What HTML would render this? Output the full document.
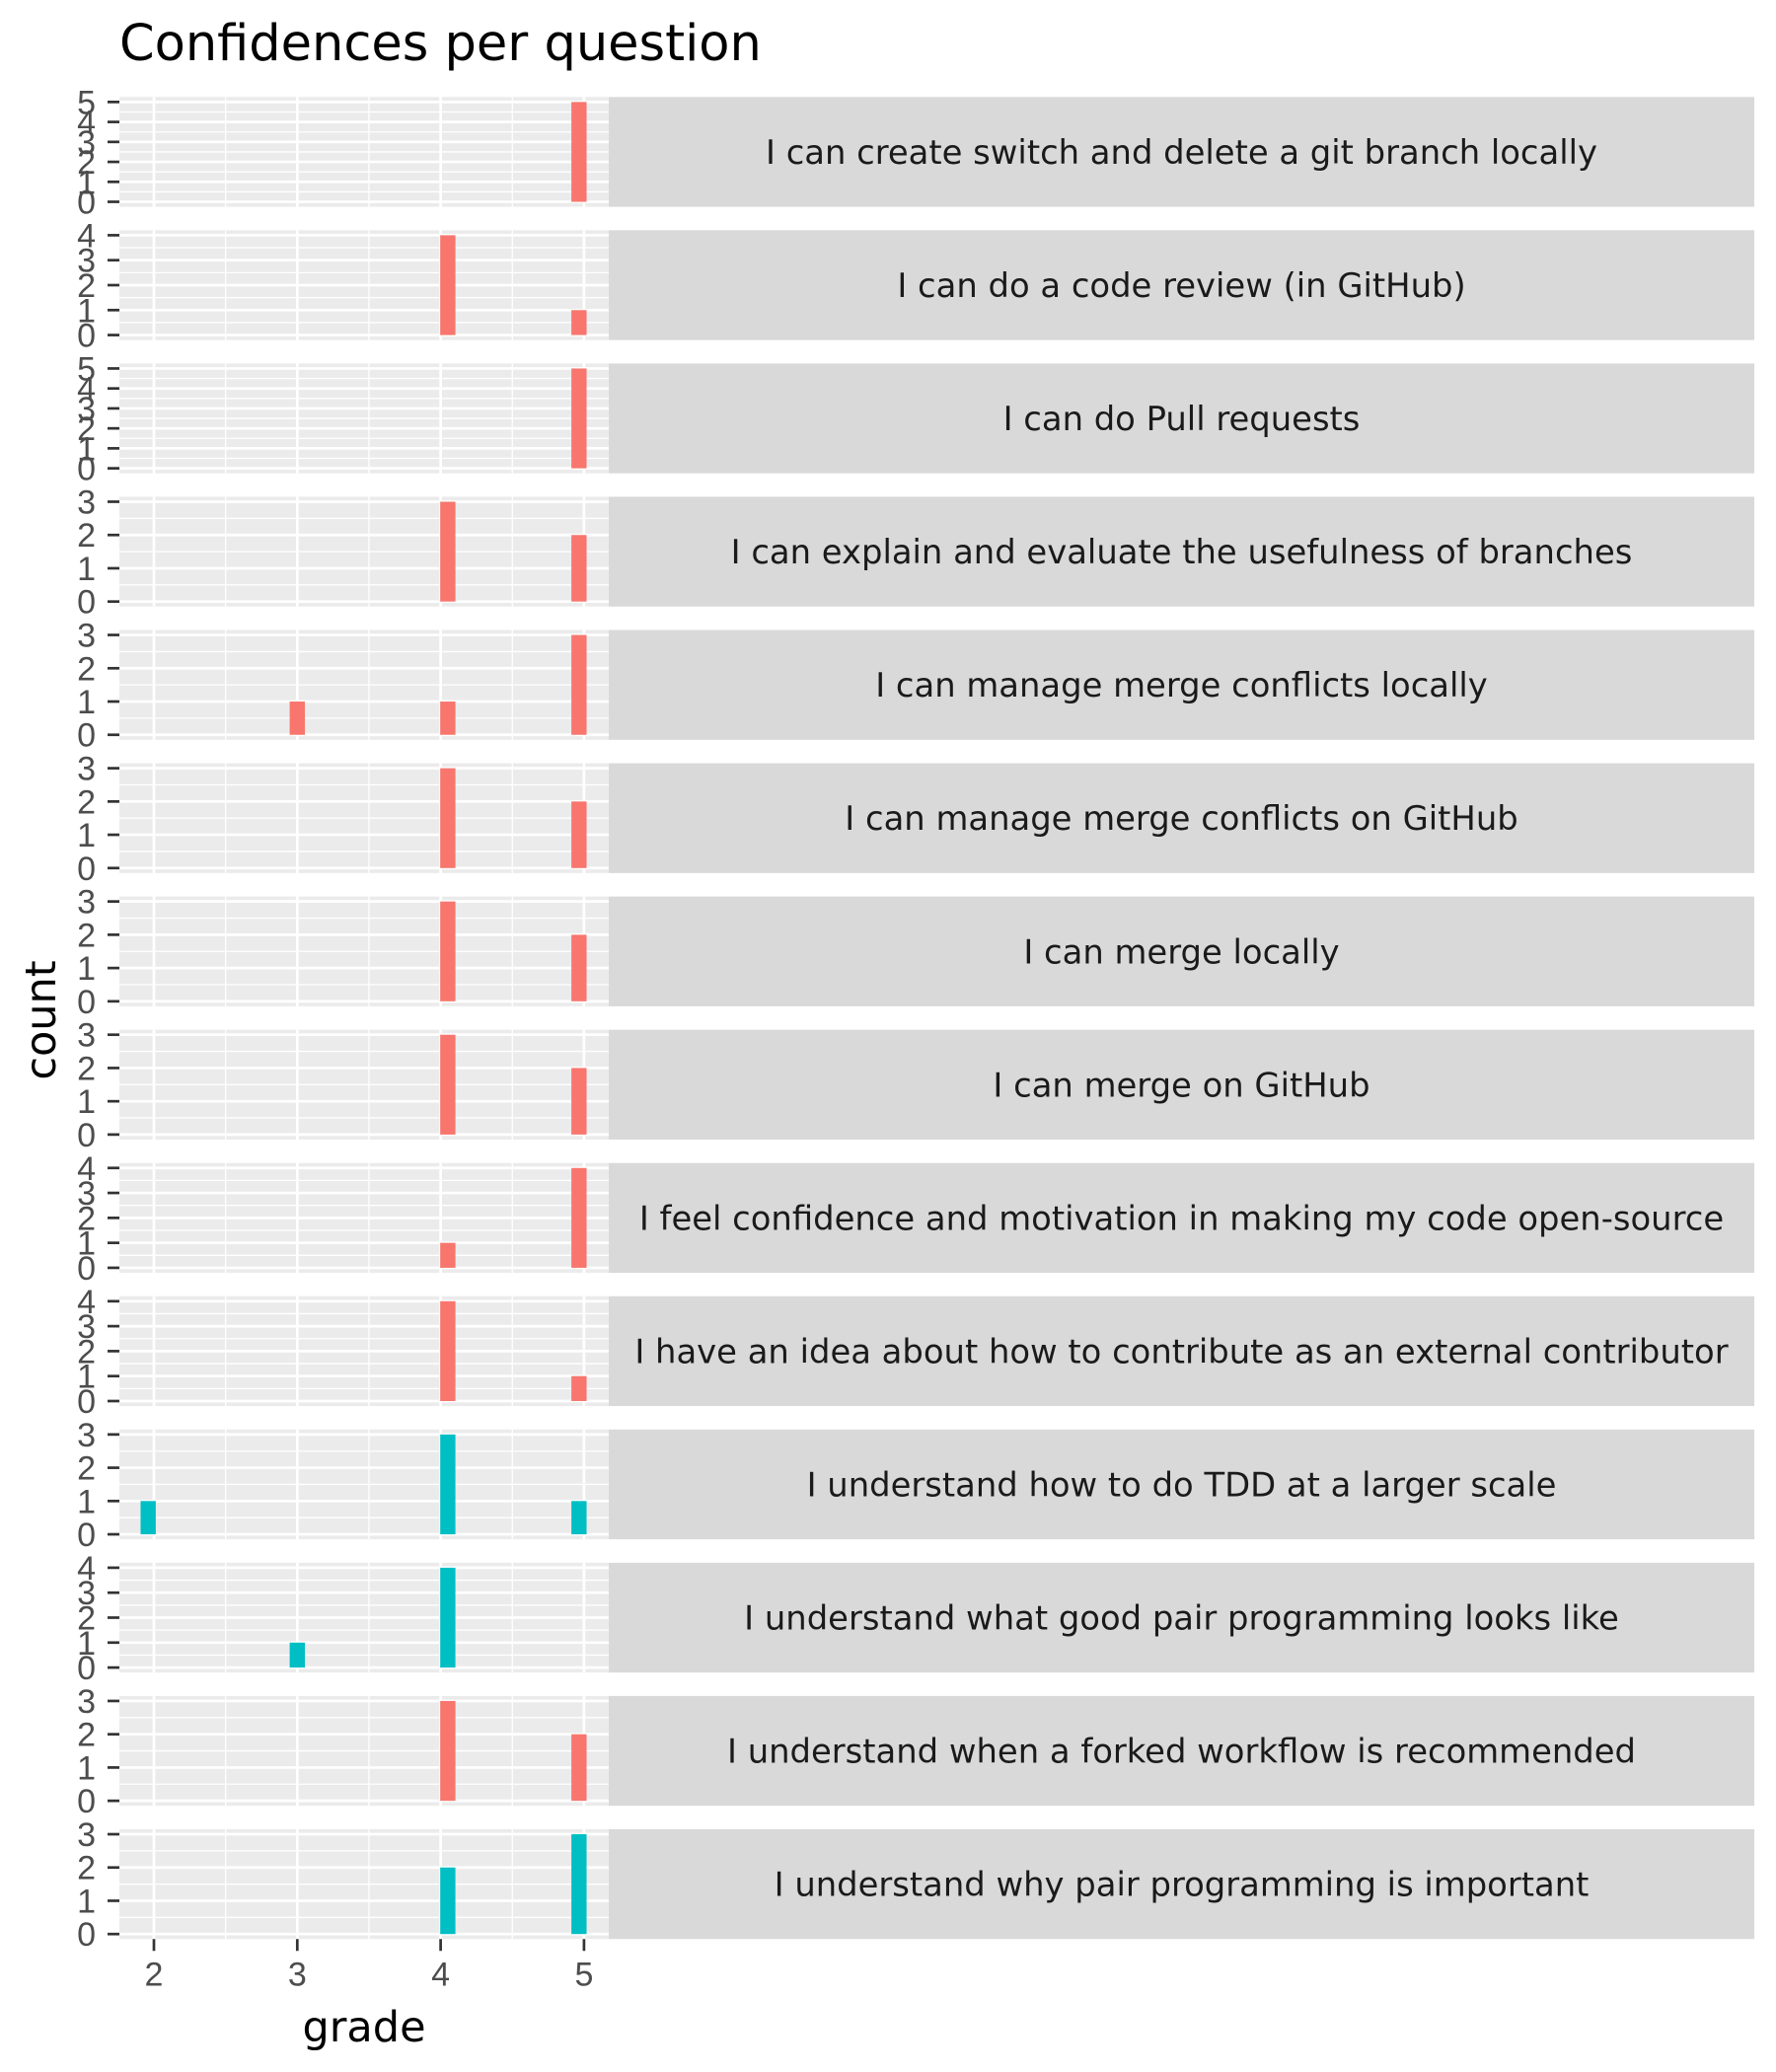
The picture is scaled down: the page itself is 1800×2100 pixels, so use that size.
<!DOCTYPE html>
<html><head><meta charset="utf-8">
<style>
html,body{margin:0;padding:0;background:#fff;}
svg{display:block;}
</style></head>
<body>
<svg id="chart" width="1800" height="2100" viewBox="0 0 1800 2100" xmlns="http://www.w3.org/2000/svg">
<text x="121" y="61" font-family="DejaVu Sans, sans-serif" font-size="51" fill="#000">Confidences per question</text>
<text transform="translate(56,1034) rotate(-90)" text-anchor="middle" font-family="DejaVu Sans, sans-serif" font-size="43" fill="#000">count</text>
<text x="369" y="2069" text-anchor="middle" font-family="DejaVu Sans, sans-serif" font-size="43" fill="#000">grade</text>
<g id="panels"></g>
</svg>
<script>
const questions = [
 "I can create switch and delete a git branch locally",
 "I can do a code review (in GitHub)",
 "I can do Pull requests",
 "I can explain and evaluate the usefulness of branches",
 "I can manage merge conflicts locally",
 "I can manage merge conflicts on GitHub",
 "I can merge locally",
 "I can merge on GitHub",
 "I feel confidence and motivation in making my code open-source",
 "I have an idea about how to contribute as an external contributor",
 "I understand how to do TDD at a larger scale",
 "I understand what good pair programming looks like",
 "I understand when a forked workflow is recommended",
 "I understand why pair programming is important"
];
const grades = [2, 3, 4, 5];
const counts = [
 [0,0,0,5],[0,0,4,1],[0,0,0,5],[0,0,3,2],[0,1,1,3],[0,0,3,2],[0,0,3,2],
 [0,0,3,2],[0,0,1,4],[0,0,4,1],[1,0,3,1],[0,1,4,0],[0,0,3,2],[0,0,2,3]
];
const groups = ["a","a","a","a","a","a","a","a","a","a","b","b","a","b"];
const xTicks = [2, 3, 4, 5];

const NS = "http://www.w3.org/2000/svg";
const colors = {a:"#F8766D", b:"#00BFC4"};
const binOffset = [-0.04, 0.0, 0.05, -0.035];
const PL = 121, PR = 617, SR = 1778, TOP0 = 98.3, STEP = 135.05, PH = 111.3;
const x = g => 156 + (g - 2) * 145.3;
const root = document.getElementById('panels');
function mk(tag, attrs, parent){
  const e = document.createElementNS(NS, tag);
  for (const k in attrs) e.setAttribute(k, attrs[k]);
  (parent||root).appendChild(e);
  return e;
}
questions.forEach((q, i) => {
  const top = TOP0 + i * STEP, bot = top + PH;
  const max = Math.max(...counts[i]);
  const unit = PH / (max * 1.1);
  const y = v => bot - max * 0.05 * unit - v * unit;
  const g = mk('g', {});
  
  
  const bg = mk('rect', {x:PL, y:top, width:PR-PL, height:PH, fill:'#EBEBEB'}, g);
  
  
  for (let v = 0.5; v < max; v += 1) {
    mk('line', {x1:PL, x2:PR, y1:y(v), y2:y(v), stroke:'#fff', 'stroke-width':1.3}, g);
  }
  [2.5, 3.5, 4.5].forEach(v => mk('line', {x1:x(v), x2:x(v), y1:top, y2:bot, stroke:'#fff', 'stroke-width':1.3}, g));
  for (let v = 0; v <= max; v++) {
    mk('line', {x1:PL, x2:PR, y1:y(v), y2:y(v), stroke:'#fff', 'stroke-width':2.7}, g);
    mk('line', {x1:109, x2:121, y1:y(v), y2:y(v), stroke:'#333', 'stroke-width':2.7}, g);
    const t = mk('text', {x:97, y:y(v)+12, 'text-anchor':'end', 'font-family':'Liberation Sans Narrow, Liberation Sans, sans-serif', 'font-size':34, fill:'#4d4d4d'}, g);
    t.textContent = v;
    
    
  }
  xTicks.forEach(v => mk('line', {x1:x(v), x2:x(v), y1:top, y2:bot, stroke:'#fff', 'stroke-width':2.7}, g));
  grades.forEach((gr, j) => {
    const c = counts[i][j];
    if (!c) return;
    const cx = x(gr + binOffset[j]);
    const r = mk('rect', {x:cx-7.7, y:y(c), width:15.4, height:y(0)-y(c), fill:colors[groups[i]]}, g);
    
    
  });
  const s = mk('rect', {x:PR, y:top, width:SR-PR, height:PH, fill:'#D9D9D9'}, g);
  
  
  const st = mk('text', {x:(PR+SR)/2, y:top+PH/2+12, 'text-anchor':'middle', 'font-family':'DejaVu Sans, sans-serif', 'font-size':33.8, fill:'#1a1a1a'}, g);
  st.textContent = q;
  
  
});
const lastBot = TOP0 + 13 * STEP + PH;
xTicks.forEach(v => {
  mk('line', {x1:x(v), x2:x(v), y1:lastBot, y2:lastBot+12, stroke:'#333', 'stroke-width':2.7});
  const t = mk('text', {x:x(v), y:lastBot+47, 'text-anchor':'middle', 'font-family':'Liberation Sans Narrow, Liberation Sans, sans-serif', 'font-size':34, fill:'#4d4d4d'});
  t.textContent = v;
  
  
});
</script>
</body></html>
